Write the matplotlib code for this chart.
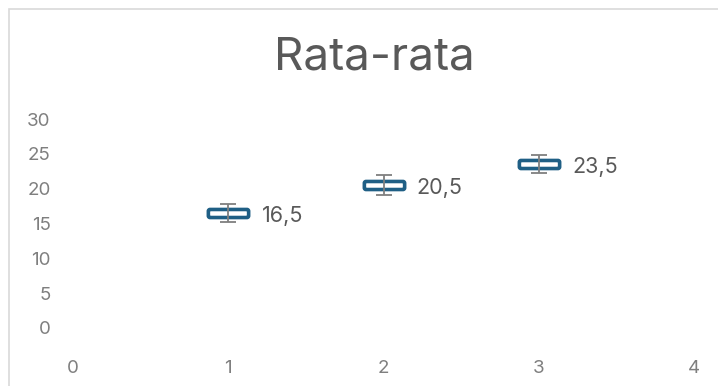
import matplotlib.pyplot as plt
import matplotlib.patches as mpatches
from matplotlib.path import Path

plt.rcParams['font.family'] = ['Inter', 'DejaVu Sans']

x_vals = [1, 2, 3]
means = [16.5, 20.5, 23.5]
errors = [1.3, 1.4, 1.3]
labels = ['16,5', '20,5', '23,5']
x_ticks = [0, 1, 2, 3, 4]
y_ticks = [0, 5, 10, 15, 20, 25, 30]

BLUE = '#1f5f85'
TICK_GREY = '#7f7f7f'
TEXT_GREY = '#595959'

fig = plt.figure(figsize=(7.18, 3.86), dpi=100)

# light chart-area border (only top and left edges fall inside the image)
border = mpatches.Rectangle((8.5 / 718, -0.2), 1.2, 1.2 - 8.5 / 386,
                            transform=fig.transFigure, fill=False,
                            edgecolor='#d9d9d9', linewidth=1.2)
fig.patches.append(border)

ax = fig.add_axes([73 / 718, 58 / 386, 621 / 718, 209 / 386])

# rounded rectangle marker
box = mpatches.BoxStyle.Round(pad=0, rounding_size=0.08)
box_path = box(-1, -0.2, 2, 0.4, 1)
box_marker = Path(box_path.vertices, box_path.codes)

ax.plot(x_vals, means, linestyle='none', marker=box_marker, markersize=29,
        markerfacecolor='white', markeredgecolor=BLUE, markeredgewidth=2.6,
        zorder=2)
ax.errorbar(x_vals, means, yerr=errors, fmt='none', ecolor=TICK_GREY,
            elinewidth=1.3, capsize=6, capthick=1.3, zorder=3)

for xv, yv, lab in zip(x_vals, means, labels):
    ax.annotate(lab, (xv, yv), xytext=(24, -2), textcoords='offset points',
                ha='left', va='center', fontsize=15.5, color=TEXT_GREY)

ax.set_xlim(0, 4)
ax.set_ylim(0, 30)
ax.set_xticks(x_ticks)
ax.set_yticks(y_ticks)
ax.tick_params(axis='both', length=0, labelsize=13.5, labelcolor=TICK_GREY)
ax.tick_params(axis='x', pad=23)
ax.tick_params(axis='y', pad=16)
for side in ax.spines.values():
    side.set_visible(False)

fig.text(374 / 718, 1 - 58 / 386, 'Rata-rata', ha='center', va='center',
         fontsize=33, color=TEXT_GREY)

fig.savefig('out.png', dpi=100)
